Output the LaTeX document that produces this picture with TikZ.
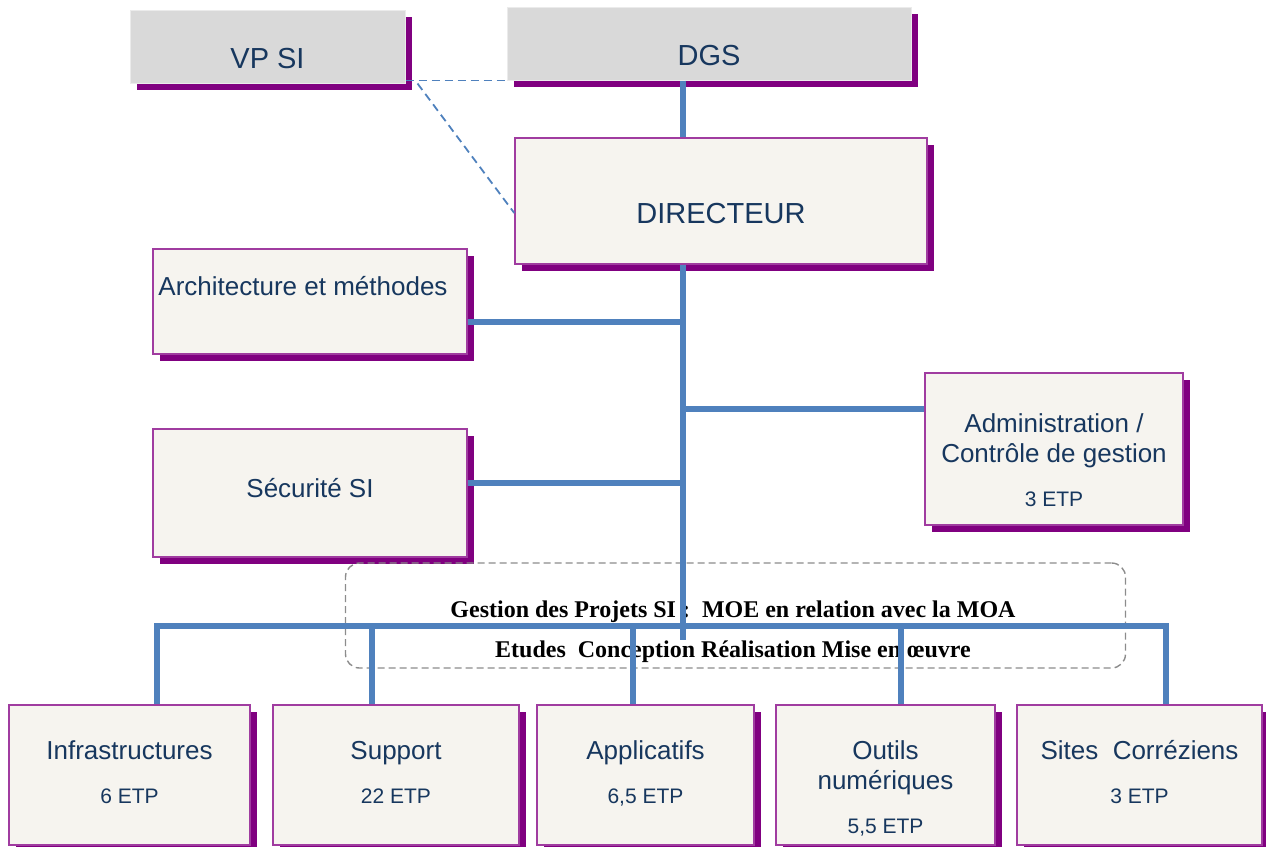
\documentclass[tikz,border=0pt]{standalone}
\usepackage{fontspec}
\setmainfont{Liberation Sans}
\newfontfamily\projfont{Liberation Serif}
\usetikzlibrary{calc}

\definecolor{txtblue}{RGB}{23,55,94}
\definecolor{plum}{RGB}{128,0,128}
\definecolor{plumline}{RGB}{160,60,160}
\definecolor{cream}{RGB}{246,244,239}
\definecolor{boxgrey}{RGB}{217,217,217}
\definecolor{linkblue}{RGB}{79,129,189}
\definecolor{dashgrey}{RGB}{140,140,140}

\tikzset{
  shadowed/.style={preaction={fill=plum,transform canvas={shift={(7pt,-7pt)}}}},
  unitbox/.style={shadowed,draw=plumline,line width=1.5pt,fill=cream,inner sep=0pt},
  greybox/.style={shadowed,draw=black!8,line width=1pt,fill=boxgrey,inner sep=0pt},
  lbl/.style={anchor=base,text=txtblue,inner sep=0pt,font=\fontsize{26}{30}\selectfont},
  toplbl/.style={lbl,font=\fontsize{29}{34}\selectfont},
  etp/.style={lbl,font=\fontsize{21}{25}\selectfont},
  projlbl/.style={anchor=base,inner sep=0pt,font=\projfont\bfseries\fontsize{24}{28}\selectfont},
  projbox/.style={draw=dashgrey,line width=1.4pt,dash pattern=on 7pt off 4pt,rounded corners=14pt,inner sep=0pt},
  link/.style={draw=linkblue,line width=5.5pt},
  vplink/.style={draw=linkblue,line width=1.8pt,dash pattern=on 8pt off 5pt}
}

\begin{document}
\begin{tikzpicture}[x=1pt,y=-1pt]
  \useasboundingbox (0,0) rectangle (1266,846);

  % top of the chart
  \node[greybox,minimum width=275pt,minimum height=73pt] (vpsi) at (267.5,46.5) {};
  \node[toplbl] (vpsi-t) at (vpsi.north |- 0,68) {VP SI};
  \node[greybox,minimum width=404pt,minimum height=73pt] (dgs) at (709,43.5) {};
  \node[toplbl] (dgs-t) at (dgs.north |- 0,65) {DGS};
  \node[unitbox,minimum width=412pt,minimum height=126pt] (dir) at (721,201) {};
  \node[toplbl] (dir-t) at (dir.north |- 0,223) {DIRECTEUR};

  % side units
  \node[unitbox,minimum width=314pt,minimum height=105pt] (arch) at (310,301.5) {};
  \node[lbl] (arch-t) at (303,295) {Architecture et méthodes};
  \node[unitbox,minimum width=314pt,minimum height=128pt] (sec) at (310,493) {};
  \node[lbl] (sec-t) at (sec.north |- 0,497) {Sécurité SI};
  \node[unitbox,minimum width=258pt,minimum height=152pt] (admin) at (1054,449) {};
  \node[lbl] (admin-t1) at (admin.north |- 0,432) {Administration /};
  \node[lbl] (admin-t2) at (admin.north |- 0,462) {Contrôle de gestion};
  \node[etp] (admin-e) at (admin.north |- 0,506) {3 ETP};

  % project band
  \node[projbox,minimum width=780pt,minimum height=105pt] (proj) at (735.5,615.5) {};
  \node[projlbl] (proj-t1) at (733,617) {Gestion des Projets SI :\ \ MOE en relation avec la MOA};
  \node[projlbl] (proj-t2) at (733,657) {Etudes\ \ Conception Réalisation Mise en œuvre};

  % teams
  \node[unitbox,minimum width=241pt,minimum height=140pt] (infra) at (129.5,775) {};
  \node[lbl] (infra-t) at (infra.north |- 0,759) {Infrastructures};
  \node[etp] (infra-e) at (infra.north |- 0,803) {6 ETP};
  \node[unitbox,minimum width=246pt,minimum height=140pt] (supp) at (396,775) {};
  \node[lbl] (supp-t) at (supp.north |- 0,759) {Support};
  \node[etp] (supp-e) at (supp.north |- 0,803) {22 ETP};
  \node[unitbox,minimum width=217pt,minimum height=140pt] (appli) at (645.5,775) {};
  \node[lbl] (appli-t) at (appli.north |- 0,759) {Applicatifs};
  \node[etp] (appli-e) at (appli.north |- 0,803) {6,5 ETP};
  \node[unitbox,minimum width=219pt,minimum height=140pt] (outils) at (885.5,775) {};
  \node[lbl] (outils-t1) at (outils.north |- 0,759) {Outils};
  \node[lbl] (outils-t2) at (outils.north |- 0,789) {numériques};
  \node[etp] (outils-e) at (outils.north |- 0,833) {5,5 ETP};
  \node[unitbox,minimum width=245pt,minimum height=140pt] (sites) at (1139.5,775) {};
  \node[lbl] (sites-t) at (sites.north |- 0,759) {Sites\ \ Corréziens};
  \node[etp] (sites-e) at (sites.north |- 0,803) {3 ETP};

  % links
  \coordinate (ja) at (685,322);
  \coordinate (jb) at (683,409);
  \coordinate (jc) at (683,483);
  \coordinate (jend) at (683,640);
  \coordinate (d1) at (157,626);
  \coordinate (d5) at (1166,626);
  \draw[vplink] (vpsi.east |- dgs.south) -- (dgs.south west);
  \draw[vplink] ([xshift=12pt]vpsi.south east) -- ([yshift=-12pt]dir.west);
  \draw[link] (dgs.south -| jend) -- (dir.north -| jend);
  \draw[link] (dir.south -| jend) -- (jend);
  \draw[link] (ja -| arch.east) -- (ja);
  \draw[link] (jb) -- (jb -| admin.west);
  \draw[link] (jc -| sec.east) -- (jc);
  \draw[link] (d1 |- infra.north) -- (d1) -- (d5) -- (d5 |- sites.north);
  \foreach \n/\x in {supp/372,appli/633,outils/901}
    \draw[link] (\x,626) -- (\n.north -| \x,0);
\end{tikzpicture}
\end{document}
